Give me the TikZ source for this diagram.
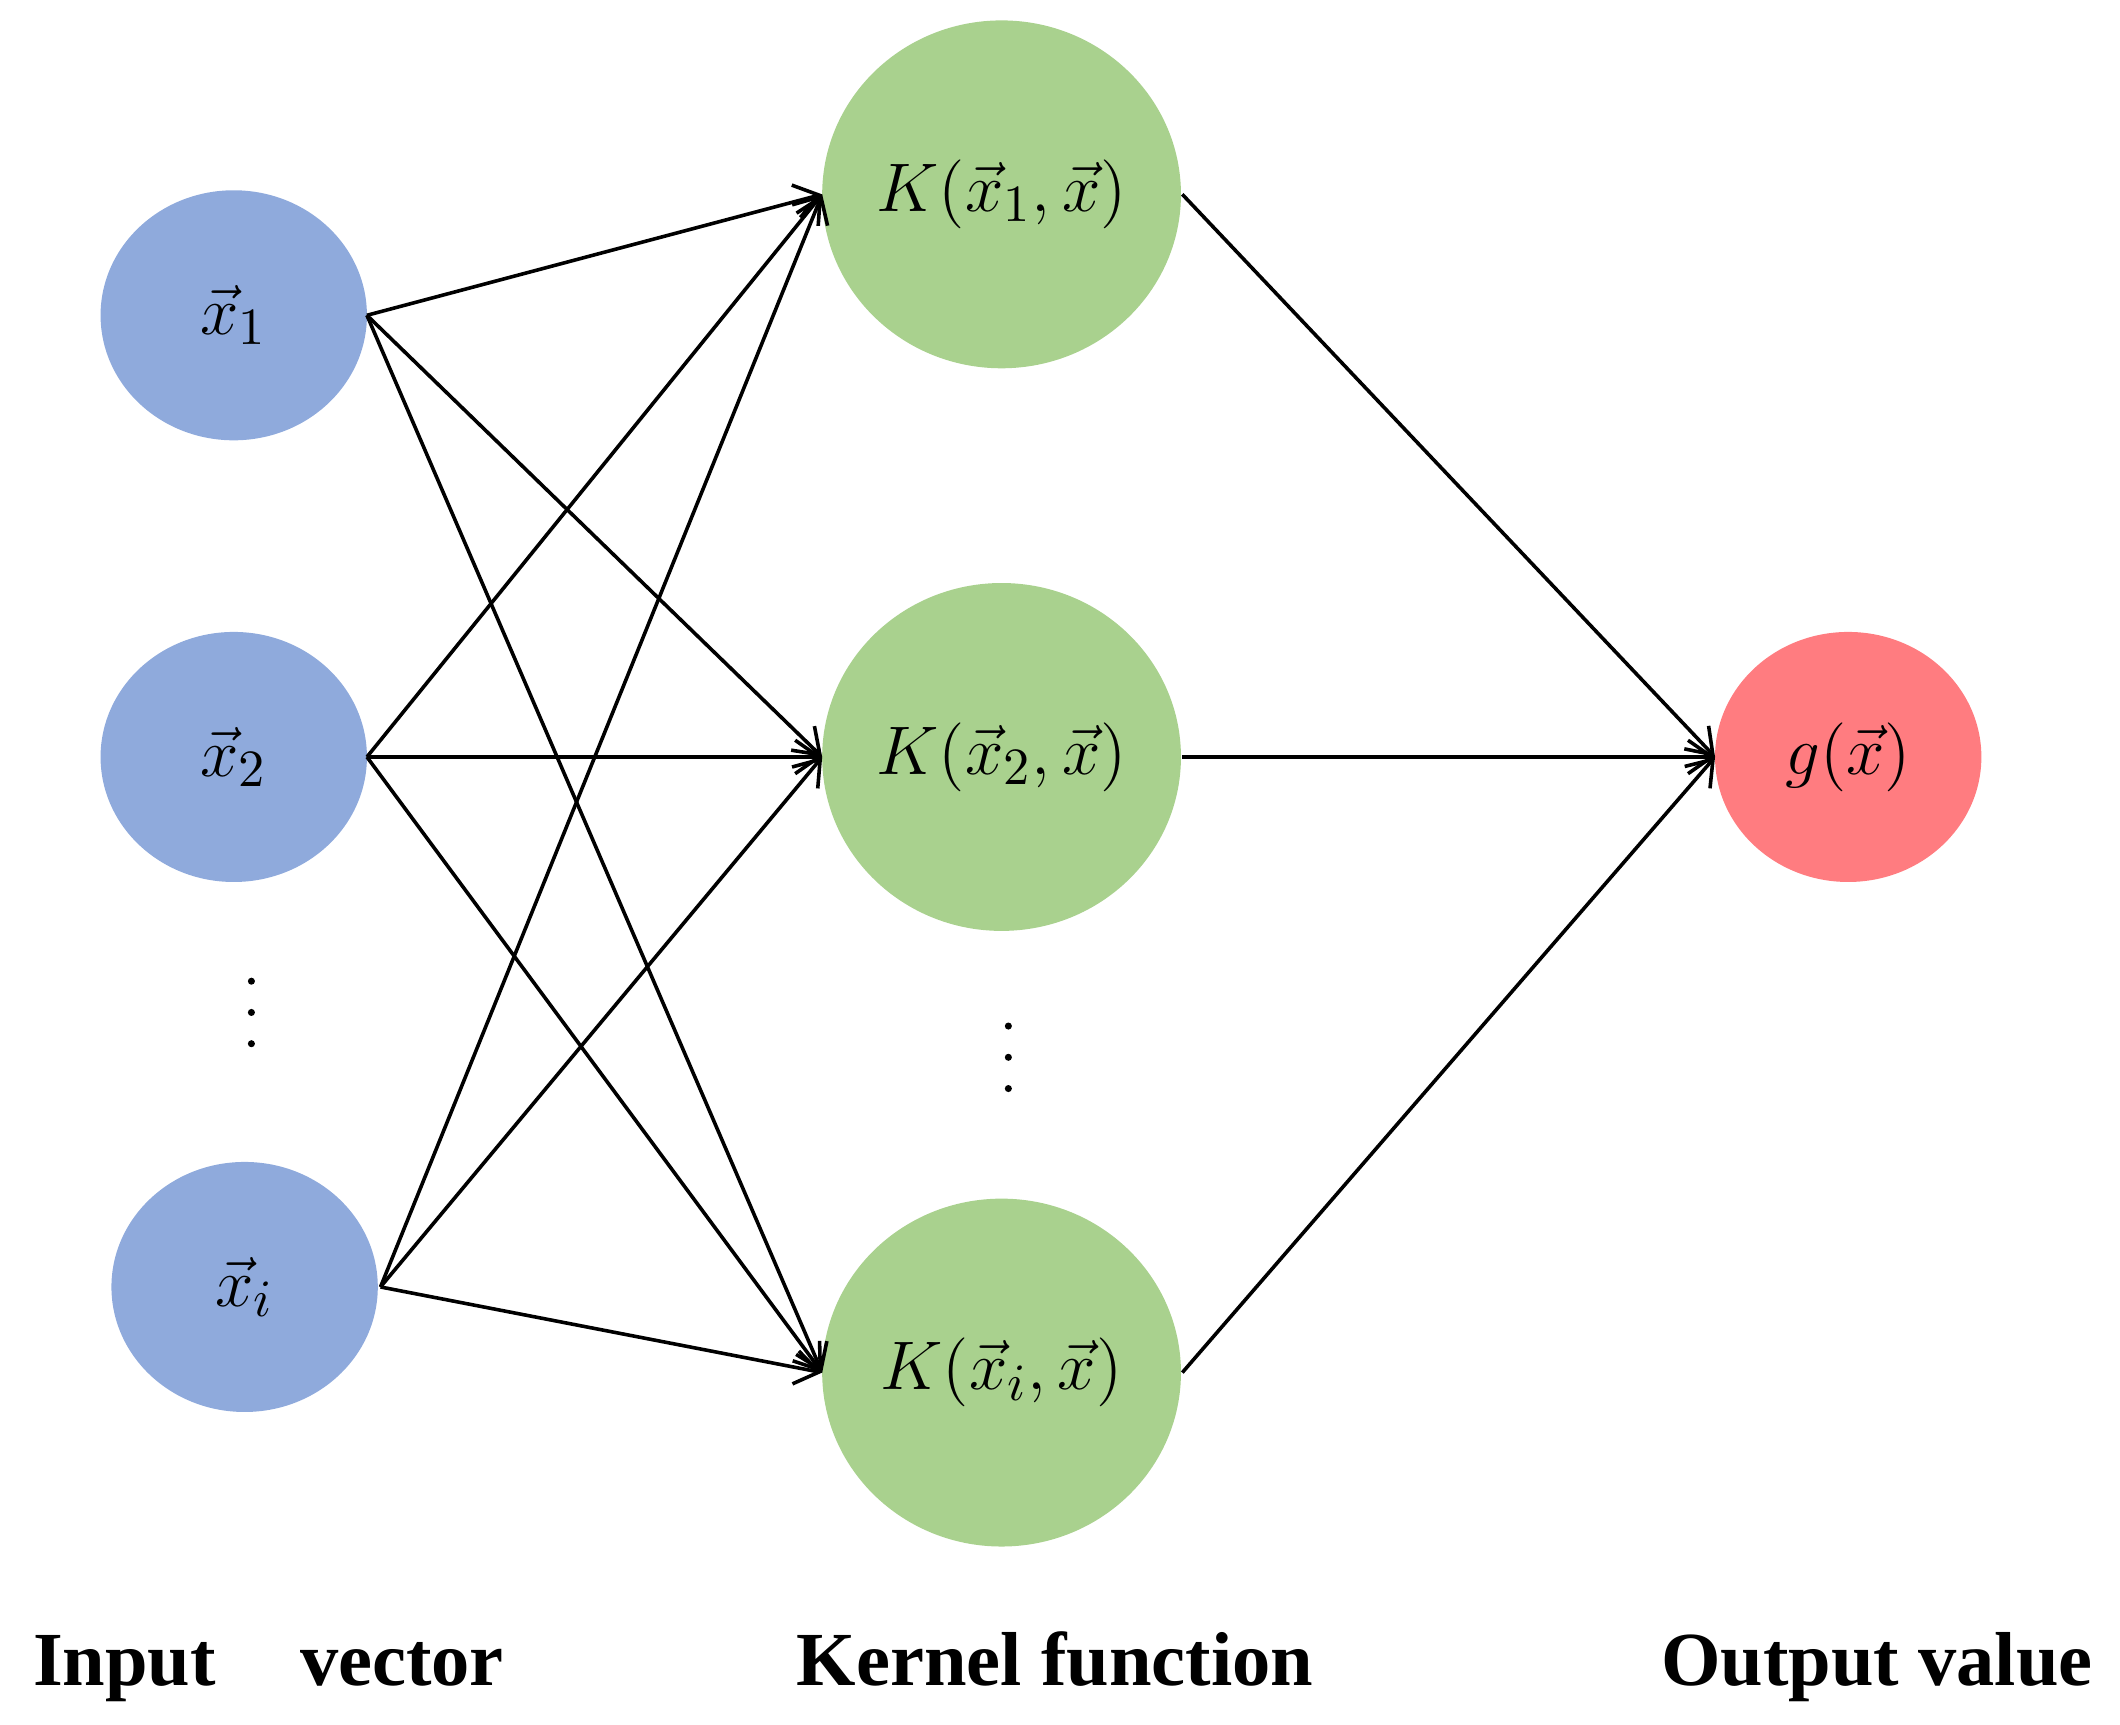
\documentclass[tikz,border=0pt]{standalone}
\usepackage{fontspec}
\setmainfont{Liberation Serif}
\usetikzlibrary{arrows.meta}
\definecolor{inblue}{HTML}{8FAADC}
\definecolor{kgreen}{HTML}{A9D18E}
\definecolor{outred}{HTML}{FF7C80}
\begin{document}
\begin{tikzpicture}[x=0.01cm,y=-0.01cm,
  n/.style={draw=none,circle,inner sep=0,font=\fontsize{15}{18}\selectfont},
  arr/.style={line width=0.75pt,-{Straight Barb[length=5pt,width=7pt]}},
  lab/.style={font=\fontsize{16}{19}\selectfont\bfseries,anchor=base west}]
\useasboundingbox (0,0) rectangle (1560,1269);
\path[fill=inblue] (172,232) ellipse [x radius=98, y radius=92];
\path[fill=inblue] (172,557) ellipse [x radius=98, y radius=92];
\path[fill=inblue] (180,947) ellipse [x radius=98, y radius=92];
\path[fill=kgreen] (737,143) ellipse [x radius=132, y radius=128];
\path[fill=kgreen] (737,557) ellipse [x radius=132, y radius=128];
\path[fill=kgreen] (737,1010) ellipse [x radius=132, y radius=128];
\path[fill=outred] (1360,557) ellipse [x radius=98, y radius=92];
\node[n] (x1) at (172,232) {$\vec{x}_1$};
\node[n] (x2) at (172,557) {$\vec{x}_2$};
\node[n] (xi) at (180,947) {$\vec{x}_i$};
\node[n] (k1) at (737,143) {$K(\vec{x}_1,\vec{x})$};
\node[n] (k2) at (737,557) {$K(\vec{x}_2,\vec{x})$};
\node[n] (ki) at (737,1010) {$K(\vec{x}_i,\vec{x})$};
\node[n] (g) at (1360,557) {$g(\vec{x})$};
\coordinate (o1) at (270,232); \coordinate (o2) at (270,557); \coordinate (oi) at (280,947);
\coordinate (i1) at (605,143); \coordinate (i2) at (605,557); \coordinate (ii) at (605,1010);
\coordinate (r1) at (870,143); \coordinate (r2) at (870,557); \coordinate (ri) at (870,1010);
\coordinate (gi) at (1262,557);
\foreach \a in {o1,o2,oi}{\foreach \b in {i1,i2,ii}{\draw[arr] (\a) -- (\b);}}
\foreach \a in {r1,r2,ri}{\draw[arr] (\a) -- (gi);}
\foreach \y in {722,745,768}{\fill (185,\y) circle (2.6);}
\foreach \y in {755,778,801}{\fill (742,\y) circle (2.6);}
\node[lab] (l1) at (12,1240) {Input\hspace{1.1em}vector};
\node[lab] (l2) at (574,1240) {Kernel function};
\node[lab] (l3) at (1210,1240) {Output value};
\end{tikzpicture}
\end{document}
